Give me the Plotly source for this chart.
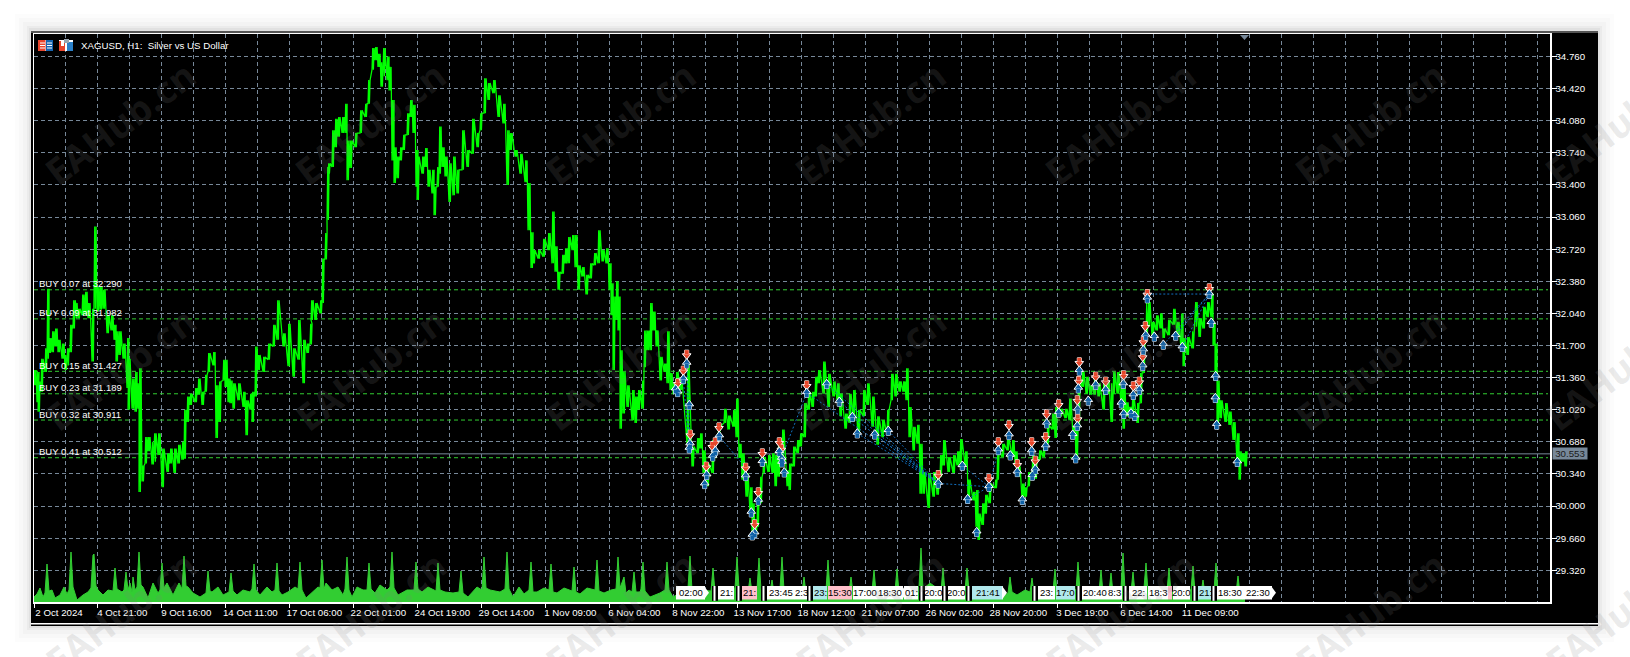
import plotly.graph_objects as go

# ---------- data ----------
y_ticks = [29.32, 29.66, 30.00, 30.34, 30.68, 31.02, 31.36, 31.70, 32.04, 32.38, 32.72, 33.06, 33.40, 33.74, 34.08, 34.42, 34.76]
x_tick_labels = ["2 Oct 2024", "4 Oct 21:00", "9 Oct 16:00", "14 Oct 11:00", "17 Oct 06:00", "22 Oct 01:00", "24 Oct 19:00",
                 "29 Oct 14:00", "1 Nov 09:00", "6 Nov 04:00", "8 Nov 22:00", "13 Nov 17:00", "18 Nov 12:00", "21 Nov 07:00",
                 "26 Nov 02:00", "28 Nov 20:00", "3 Dec 19:00", "6 Dec 14:00", "11 Dec 09:00"]
levels = [32.290, 31.982, 31.427, 31.189, 30.911, 30.512]
level_labels = ["BUY 0.07 at 32.290", "BUY 0.09 at 31.982", "BUY 0.15 at 31.427", "BUY 0.23 at 31.189", "BUY 0.32 at 30.911", "BUY 0.41 at 30.512"]
last_price = 30.553

bars = [0,3,4,7,11,13,15,18,21,24,28,31,33,36,39,41,44,48,51,54,58,60,63,66,69,73,77,80,82,85,89,93,94,98,101,103,105,108,111,114,118,120,124,128,133,136,140,144,148,150,153,156,161,164,168,171,174,179,182,185,189,191,194,196,199,204,209,212,216,218,221,224,229,234,239,243,249,254,259,264,269,273,276,277,281,286,288,291,293,294,298,301,304,308,311,313,316,321,326,331,334,338,341,344,347,349,353,355,358,360,363,366,369,373,376,379,382,383,388,391,394,398,400,403,405,408,411,415,419,423,428,433,438,443,446,450,454,459,464,469,473,476,481,486,491,494,497,499,504,509,514,518,521,524,528,531,534,538,541,544,548,552,556,560,564,568,572,575,577,579,582,584,586,589,593,598,601,604,608,610,613,616,619,622,626,630,633,636,639,642,646,653,658,663,666,669,673,678,684,690,694,699,702,705,708,712,716,718,721,723,726,729,734,738,741,744,748,753,755,759,763,766,770,774,778,781,784,789,794,799,803,806,811,815,819,824,829,833,838,843,848,853,857,861,865,869,872,875,879,883,886,889,894,899,903,906,909,914,919,923,926,931,934,939,942,944,948,951,955,961,963,968,973,978,981,984,988,991,994,998,1001,1005,1009,1013,1018,1021,1026,1031,1035,1039,1042,1044,1048,1052,1056,1060,1064,1069,1073,1077,1079,1083,1087,1089,1092,1095,1098,1103,1106,1109,1112,1114,1118,1122,1126,1129,1134,1139,1143,1147,1149,1153,1158,1161,1165,1169,1173,1177,1179,1181,1183,1186,1191,1195,1199,1203,1205,1208,1211]
highs = [31.44,31.42,31.32,31.56,31.67,32.30,31.78,31.85,31.88,31.76,31.72,31.60,31.67,31.92,32.18,32.15,32.09,32.24,32.27,32.15,32.09,32.96,32.32,32.32,32.29,32.02,32.02,31.92,31.85,31.85,31.72,31.78,31.56,31.35,31.42,31.30,31.46,30.43,30.73,30.73,30.68,30.77,30.77,30.61,30.56,30.61,30.61,30.65,30.68,31.02,31.16,31.19,31.25,31.35,31.21,31.39,31.62,31.63,31.28,31.32,31.55,31.55,31.35,31.33,31.30,31.30,31.21,31.12,31.19,31.21,31.69,31.60,31.58,31.72,31.92,32.18,31.83,31.93,31.67,31.97,31.76,31.72,31.93,32.18,32.15,32.18,32.62,32.89,33.59,33.63,33.98,34.10,34.12,34.12,34.26,33.87,33.87,33.95,34.19,34.26,34.51,34.85,34.86,34.79,34.70,34.85,34.76,34.65,34.30,33.80,33.70,33.80,33.93,34.16,34.30,34.25,33.77,33.70,33.70,33.79,33.56,33.56,33.38,33.59,34.02,33.80,33.70,33.63,33.70,33.56,33.98,33.77,34.10,33.95,34.16,34.53,34.48,34.51,34.35,34.26,33.98,33.95,33.77,33.73,33.66,33.42,32.90,32.71,32.71,32.83,32.89,33.12,32.75,32.48,32.66,32.73,32.85,32.87,32.87,32.55,32.53,32.45,32.57,32.68,32.92,32.71,32.73,32.57,32.36,32.22,32.38,32.22,31.65,31.42,31.28,31.23,31.16,31.23,31.33,31.86,31.86,32.15,32.06,31.86,31.58,31.51,31.85,31.41,31.30,31.42,31.33,31.51,30.63,30.72,30.77,30.59,30.45,30.70,30.84,31.03,30.96,31.02,31.14,30.66,30.56,30.35,30.20,30.03,29.83,30.14,30.31,30.52,30.54,30.56,30.54,30.70,30.81,30.38,30.45,30.63,30.70,30.77,31.09,31.21,31.21,31.37,31.44,31.53,31.40,31.32,31.30,31.19,30.98,31.19,31.23,31.02,31.23,31.30,31.16,30.95,30.91,31.02,31.40,31.40,31.32,31.32,31.46,31.05,30.84,30.86,30.66,30.36,30.35,30.36,30.31,30.54,30.70,30.52,30.54,30.58,30.71,30.58,30.28,30.15,30.17,29.92,30.03,30.12,30.24,30.28,30.58,30.66,30.73,30.70,30.58,30.42,30.24,30.20,30.36,30.54,30.50,30.59,30.63,30.86,30.98,31.05,31.03,31.03,31.14,30.84,30.81,31.37,31.42,31.37,31.28,31.37,31.30,31.33,31.33,31.30,31.42,31.42,31.30,31.26,31.10,31.05,31.16,31.09,31.41,31.83,32.15,32.16,31.95,32.02,32.04,31.88,31.97,32.09,31.95,32.04,31.78,31.79,31.85,32.16,31.99,32.11,32.16,32.25,31.93,31.72,31.33,31.12,31.09,31.00,30.89,30.77,30.58,30.56,30.58]
lows = [31.28,31.10,31.00,31.21,31.42,31.56,31.62,31.63,31.69,31.63,31.56,31.44,31.49,31.63,31.88,31.99,31.99,32.02,32.02,31.99,31.53,32.09,32.06,32.08,32.09,31.83,31.86,31.76,31.53,31.60,31.56,31.25,31.02,31.03,31.00,31.03,30.15,30.26,30.45,30.58,30.44,30.47,30.54,30.20,30.36,30.45,30.35,30.45,30.49,30.50,30.89,31.07,31.10,31.18,31.07,31.21,31.42,31.49,30.72,30.89,31.33,31.26,31.10,31.09,31.03,31.12,31.05,30.75,31.02,30.89,31.16,31.44,31.42,31.55,31.69,31.76,31.69,31.48,31.37,31.55,31.30,31.62,31.71,31.97,31.97,32.04,32.15,32.61,33.03,33.52,33.59,33.80,33.91,33.95,33.95,33.45,33.58,33.80,33.95,34.12,34.26,34.62,34.72,34.65,34.44,34.55,34.51,34.40,33.66,33.42,33.47,33.66,33.77,33.93,34.12,33.95,33.38,33.24,33.52,33.59,33.38,33.31,33.08,33.38,33.52,33.59,33.49,33.22,33.29,33.31,33.56,33.59,33.73,33.80,33.98,34.16,34.30,34.37,34.12,34.05,33.40,33.77,33.70,33.52,33.43,32.92,32.52,32.57,32.62,32.64,32.71,32.57,32.48,32.29,32.46,32.57,32.57,32.71,32.53,32.29,32.43,32.24,32.41,32.55,32.57,32.59,32.57,32.29,32.02,31.44,31.97,31.86,30.82,30.98,31.05,30.91,30.88,31.02,31.03,31.47,31.65,31.65,31.86,31.69,31.33,31.42,31.30,31.23,31.19,31.18,31.23,30.66,30.42,30.56,30.61,30.35,30.21,30.35,30.70,30.88,30.81,30.84,30.73,30.51,30.28,30.10,29.92,29.68,29.68,29.78,30.03,30.35,30.36,30.35,30.21,30.31,30.45,30.21,30.17,30.42,30.56,30.63,30.73,31.02,31.05,31.16,31.30,31.19,31.05,31.16,31.12,30.95,30.82,30.88,30.93,30.75,30.95,31.07,30.84,30.65,30.73,30.75,31.12,31.16,31.21,31.21,31.12,30.73,30.59,30.66,30.13,30.13,29.98,30.10,30.12,30.31,30.43,30.36,30.35,30.43,30.45,30.43,30.06,30.06,29.78,29.64,29.80,29.92,30.03,30.19,30.28,30.52,30.59,30.52,30.45,30.31,30.08,30.10,30.21,30.28,30.29,30.49,30.52,30.66,30.81,30.72,30.95,30.93,30.91,30.72,30.47,30.81,31.26,31.19,31.18,31.18,31.16,31.02,31.19,30.89,31.19,31.19,31.05,30.82,30.95,30.96,30.95,30.88,31.09,31.41,31.83,31.90,31.79,31.86,31.88,31.78,31.81,31.92,31.79,31.65,31.48,31.60,31.67,31.90,31.79,31.88,32.00,32.00,31.70,31.33,30.88,30.93,30.89,30.86,30.70,30.45,30.28,30.47,30.42]

volume_points = [(0,5),(3,8),(6,14),(9,5),(11,9),(13,38),(15,11),(18,12),(21,4),(26,7),(30,15),(33,8),(35,12),(37,50),(39,15),(43,2),(49,7),(54,10),(57,14),(59,47),(60,48),(62,16),(64,12),(69,7),(74,12),(79,11),(81,34),(83,13),(88,10),(90,12),(92,30),(94,12),(96,19),(98,10),(99,25),(101,12),(103,15),(105,50),(107,17),(109,15),(114,4),(119,19),(124,9),(126,12),(128,39),(130,14),(133,19),(139,7),(145,19),(148,13),(150,46),(152,16),(154,15),(159,9),(166,5),(172,9),(174,31),(176,11),(178,10),(184,15),(189,7),(195,10),(197,29),(199,11),(203,7),(209,12),(216,10),(218,13),(220,38),(222,12),(226,7),(233,15),(238,10),(241,12),(243,39),(245,11),(248,7),(254,10),(261,15),(264,13),(266,40),(268,12),(272,4),(279,10),(284,15),(286,14),(288,42),(290,13),(292,19),(298,12),(304,15),(309,7),(311,13),(313,45),(315,12),(318,5),(323,15),(329,12),(333,12),(335,39),(337,13),(341,9),(346,17),(353,12),(356,15),(358,50),(360,14),(364,7),(373,12),(380,12),(382,40),(384,13),(388,10),(394,15),(402,11),(404,39),(406,12),(411,10),(419,9),(425,10),(427,31),(429,9),(434,5),(443,15),(448,12),(450,45),(452,14),(456,12),(466,10),(471,13),(473,50),(475,13),(479,5),(485,15),(490,8),(495,12),(497,40),(499,10),(503,10),(510,14),(515,12),(517,38),(519,10),(523,9),(530,14),(538,11),(540,35),(542,10),(546,8),(553,14),(561,12),(563,42),(565,11),(570,9),(577,12),(582,13),(584,45),(586,14),(590,25),(592,9),(595,12),(598,10),(600,30),(602,10),(606,10),(607,13),(609,40),(611,11),(616,5),(626,9),(631,12),(633,40),(635,12),(639,5),(654,14),(656,46),(658,12),(666,12),(677,11),(679,34),(681,10),(689,12),(701,14),(703,45),(705,14),(714,10),(716,24),(718,10),(723,13),(725,44),(727,12),(736,10),(738,22),(740,9),(746,13),(748,45),(750,12),(763,15),(768,9),(770,25),(772,9),(783,15),(792,12),(794,42),(796,10),(806,14),(815,10),(817,25),(819,9),(826,12),(838,11),(840,32),(842,10),(851,14),(861,11),(863,33),(865,10),(876,15),(885,15),(887,54),(889,13),(896,19),(907,11),(909,34),(911,10),(921,12),(931,12),(933,34),(935,11),(949,12),(959,15),(968,5),(974,9),(976,25),(978,10),(983,7),(991,12),(996,10),(998,24),(1000,8),(1009,12),(1019,11),(1021,33),(1023,9),(1033,15),(1042,12),(1044,40),(1046,11),(1056,15),(1065,10),(1067,32),(1069,9),(1075,10),(1077,29),(1079,9),(1087,14),(1089,49),(1091,12),(1097,10),(1099,30),(1101,9),(1110,14),(1112,39),(1114,10),(1123,12),(1133,11),(1135,34),(1137,9),(1146,15),(1157,12),(1159,36),(1161,10),(1167,9),(1169,22),(1171,8),(1180,12),(1182,39),(1184,10),(1193,15),(1202,9),(1204,26),(1206,8),(1211,12)]
vol_bars = [p[0] for p in volume_points]
vol_vals = [p[1] for p in volume_points]

buy_bars = [652.7,649.3,641.7,643.7,655.3,656,655.3,678.7,681.3,685.3,672.7,670.7,711.7,728.3,724.3,717.3,720.7,718.3,747.7,748,745.3,750.3,772.7,792.7,805.3,818.3,823.3,840.7,854.3,904.3,928.3,933.7,942.7,955,964.3,975,976.3,983.3,988.3,997.7,998.3,1001.3,1011.7,1012.7,1024.7,1038.7,1041.7,1043.3,1043.7,1044.3,1045.3,1054.3,1061.7,1071.7,1087.3,1089.3,1089.7,1097,1100.7,1099.3,1105.3,1108.7,1109.3,1111.7,1113.3,1120.3,1129.3,1141.7,1148.3,1175.3,1177.3,1181.7,1181.3,1182.7,1203.3]
buy_prices = [31.511,31.345,31.239,31.207,31.070,30.657,30.611,30.526,30.583,30.742,30.329,30.233,30.318,30.470,30.060,29.933,29.715,29.690,30.505,30.463,30.576,30.357,31.200,31.292,31.105,30.943,30.770,30.759,30.798,30.240,30.427,30.075,29.725,30.205,30.593,30.752,30.537,30.360,30.064,30.583,30.322,30.389,30.636,30.876,30.989,30.756,30.506,30.848,31.024,31.247,31.434,31.116,31.282,31.229,31.088,31.293,30.975,30.982,30.954,31.176,31.229,31.483,31.652,31.808,32.200,31.794,31.709,31.804,31.684,32.245,31.942,31.377,31.144,30.862,30.467]
sell_bars = [652.7,649.3,643.7,656.3,678.3,681.3,685,672.3,711.7,728.3,724.3,720.7,745.3,747.3,772.7,904.3,955,964.3,975,983.3,997.7,1001.3,1011.7,1012.7,1024.7,1043.7,1043.3,1044.7,1045.3,1061.7,1071.7,1089.7,1099.3,1105.3,1108.7,1109.3,1111.3,1113.3,1175.3]
sell_prices = [31.603,31.433,31.299,30.756,30.632,30.675,30.833,30.417,30.406,30.558,30.145,29.806,30.675,30.604,31.278,30.329,30.290,30.675,30.855,30.442,30.675,30.480,30.728,30.971,31.077,30.925,31.120,31.324,31.522,31.370,31.317,31.384,31.268,31.317,31.582,31.741,31.903,32.245,32.305]

link_from_bars = [652.7,649.3,685,747.3,772.7,792.7,805.3,818.3,823.3,840.7,854.3,904.3,928.3,933.7,955,1113.3,1129.3,1141.7,1148.3]
link_from_prices = [31.511,31.345,30.742,30.505,31.200,31.292,31.105,30.943,30.770,30.759,30.798,30.240,30.427,30.075,30.205,32.245,31.709,31.804,31.684]
link_to_bars = [656,655.3,711.7,772.7,904.3,904.3,904.3,904.3,904.3,904.3,904.3,955,955,955,964.3,1175.3,1175.3,1175.3,1175.3]
link_to_prices = [30.657,30.611,30.406,31.200,30.240,30.240,30.240,30.240,30.240,30.240,30.240,30.205,30.205,30.205,30.593,32.245,32.245,32.245,32.245]

tag_texts = ["02:00","21:","21:","23:45","2:3","23:","15:30","17:00","18:30","01:","20:0","20:0","21:41","23:","17:0","20:40","8:3","22:","18:3","","20:0","21:","18:30","22:30"]
tag_starts = [642,684,708,733,761,779,794,819,842,870,891,914,938,1004,1022,1048,1073,1095,1114,1134,1139,1164,1183,1209]
tag_ends = [671,700,723,761,773,793,818,842,869,884,908,931,969,1021,1041,1073,1088,1113,1134,1138,1156,1179,1209,1238]
tag_kinds = ["w","w","p","w","w","c","p","w","w","w","w","w","c","w","c","w","w","w","w","p","w","c","w","w"]
tag_pointed = ["02:00","23:45","21:41","18:30","22:30"]

# ---------- layout constants ----------
W, H = 1630, 657
L, R, T, B = 34, 1550, 34, 602
PX_PER_UNIT = 94.45
GREEN = "#00FF00"
LIME = "#32CD32"
SLATE = "#778899"
BLUE = "#0F62A8"
RED = "#E8472B"
FONT = "Liberation Sans"


def xp(px):
    return (px - L) / (R - L)


def yp(py):
    return (B - py) / (B - T)


def rect(x0, y0, x1, y1, color, layer="below", opacity=1):
    return dict(type="rect", xref="paper", yref="paper", x0=xp(x0), x1=xp(x1), y0=yp(y0), y1=yp(y1),
                fillcolor=color, line_width=0, layer=layer, opacity=opacity)


fig = go.Figure()

# pending-order levels and last price
lx, ly = [], []
for lv in levels:
    lx += [0, 1514, None]
    ly += [lv, lv, None]
fig.add_trace(go.Scatter(x=lx, y=ly, mode="lines", line=dict(color=LIME, width=1, dash="4px,3px"), hoverinfo="skip"))
fig.add_trace(go.Scatter(x=[0, 1516], y=[last_price, last_price], mode="lines", line=dict(color=SLATE, width=1), hoverinfo="skip"))

# price as a dense high/low sweep
px_x, px_y = [], []
for b, h, l in zip(bars, highs, lows):
    px_x += [b, b + 0.7, b + 1.4, b + 2.1]
    px_y += [l, h, l, h]
fig.add_trace(go.Scatter(x=px_x, y=px_y, mode="lines", line=dict(color=GREEN, width=1.25), hoverinfo="skip"))

# volume on its own hidden axis
fig.add_trace(go.Scatter(x=vol_bars, y=vol_vals, yaxis="y2", mode="lines", fill="tozeroy",
                         fillcolor=LIME, line=dict(color=LIME, width=1), hoverinfo="skip"))

# trade links
cx, cy = [], []
for a, b, c, d in zip(link_from_bars, link_from_prices, link_to_bars, link_to_prices):
    cx += [a, c, None]
    cy += [b, d, None]
fig.add_trace(go.Scatter(x=cx, y=cy, mode="lines", line=dict(color="#1270C0", width=1, dash="2px,2px"), hoverinfo="skip"))


# deal arrows: head + stem, each white-edged
def arrows(xs, ys, color, up):
    d = 1 / PX_PER_UNIT
    sgn = -1 if up else 1
    stem_y = [v + sgn * 2.5 * d for v in ys]
    head_y = [v - sgn * 1.0 * d for v in ys]
    white = dict(color="white", width=1)
    fig.add_trace(go.Scatter(x=xs, y=stem_y, mode="markers", hoverinfo="skip",
                             marker=dict(symbol="square", size=4, color=color, line=white)))
    fig.add_trace(go.Scatter(x=xs, y=head_y, mode="markers", hoverinfo="skip",
                             marker=dict(symbol="triangle-up" if up else "triangle-down", size=7.5, color=color, line=white)))
    fig.add_trace(go.Scatter(x=xs, y=stem_y, mode="markers", hoverinfo="skip",
                             marker=dict(symbol="square", size=4, color=color, line_width=0)))


arrows(sell_bars, sell_prices, RED, False)
arrows(buy_bars, buy_prices, BLUE, True)

# ---------- shapes ----------
shapes = []
for grow, op in [(16, .012), (12, .015), (8, .02), (4, .03), (2, .04)]:
    shapes.append(rect(31 - grow, 30 - grow, 1598 + grow, 626 + grow, "#000000", opacity=op))
shapes.append(rect(31, 31, 1598, 626, "#000000"))
shapes.append(rect(31, 31, 1598, 33, "#555555"))
shapes.append(rect(31, 623, 1598, 624.4, "#FFFFFF"))
# toolbar icons
shapes += [rect(38, 40, 53, 51, "#FFFFFF", "above"), rect(38, 40, 45.5, 51, "#E8452C", "above"),
           rect(46, 40, 53, 51, "#1565B0", "above"),
           rect(40, 42.5, 45, 43.5, "#FFFFFF", "above"), rect(40, 45, 45, 46, "#FFFFFF", "above"), rect(40, 47.5, 45, 48.5, "#FFFFFF", "above"),
           rect(47, 42.5, 52, 43.5, "#FFFFFF", "above"), rect(47, 45, 52, 46, "#FFFFFF", "above"), rect(47, 47.5, 52, 48.5, "#FFFFFF", "above"),
           rect(59, 40, 73, 51, "#FFFFFF", "above"), rect(59, 41, 65, 51, "#E8452C", "above"), rect(67, 42, 73, 51, "#2A80C8", "above"),
           rect(61, 41, 64, 46, "#FFFFFF", "above"), rect(64, 39, 69, 43, "#9AA5B0", "above")]
# shift marker at the top edge
shapes.append(dict(type="path", xref="paper", yref="paper", layer="above", line_width=0, fillcolor=SLATE,
                   path=f"M {xp(1240)},{yp(35)} L {xp(1249)},{yp(35)} L {xp(1244.5)},{yp(40)} Z"))
# time tags, with the dark separators seen before the tags that stand apart
tag_fill = {"w": "#FFFFFF", "p": "#FFC0CB", "c": "#B0E8EC"}
prev_end = -99
for s, e, k in zip(tag_starts, tag_ends, tag_kinds):
    if s - prev_end > 3 and s > 650:
        shapes.append(dict(type="rect", xref="x", yref="paper", x0=s - 6, x1=s, y0=0.002, y1=yp(586),
                           fillcolor="#000000", line_width=0, layer="above"))
        shapes.append(dict(type="rect", xref="x", yref="paper", x0=s - 4.5, x1=s - 2.5, y0=0.002, y1=yp(586),
                           fillcolor="#FFFFFF", line_width=0, layer="above"))
    shapes.append(dict(type="rect", xref="x", yref="paper", x0=s, x1=e, y0=yp(599.5), y1=yp(586),
                       fillcolor=tag_fill[k], line_width=0, layer="above"))
    prev_end = e
for s, e, t in zip(tag_starts, tag_ends, tag_texts):
    if t in tag_pointed:
        shapes.append(dict(type="path", xref="paper", yref="paper", layer="above", line_width=0, fillcolor="#FFFFFF",
                           path=f"M {xp(e + L - 1)},{yp(586)} L {xp(e + L + 4)},{yp(592.7)} L {xp(e + L - 1)},{yp(599.5)} Z"))

# ---------- annotations ----------
ann = []
ann.append(dict(xref="paper", yref="paper", x=xp(79), y=yp(45), xanchor="left", yanchor="middle", showarrow=False,
                text="XAGUSD, H1:  Silver vs US Dollar", font=dict(family=FONT, size=9.7, color="#FFFFFF")))
for lv, tx in zip(levels, level_labels):
    ann.append(dict(xref="x", yref="y", x=3, y=lv, yshift=6, xanchor="left", yanchor="middle", showarrow=False,
                    text=tx, font=dict(family=FONT, size=9.5, color="#FFFFFF")))
for s, e, t in zip(tag_starts, tag_ends, tag_texts):
    if t:
        ann.append(dict(xref="x", yref="paper", x=(s + e) / 2, y=yp(592.7), xanchor="center", yanchor="middle", showarrow=False,
                        text=t, font=dict(family=FONT, size=9.5, color="#000000")))
ann.append(dict(xref="paper", yref="y", x=xp(1570), y=last_price, xanchor="center", yanchor="middle", showarrow=False,
                text=f"{last_price:.3f}", bgcolor=SLATE, width=34, height=11, borderpad=0,
                font=dict(family=FONT, size=9.7, color="#1A1A1A")))
# watermark
for wy in (123, 368, 612):
    for wx in (120, 370, 620, 870, 1120, 1370, 1620):
        ann.append(dict(xref="paper", yref="paper", x=xp(wx), y=yp(wy), xanchor="center", yanchor="middle", showarrow=False,
                        text="<b>EAHub.cn</b>", textangle=-37, font=dict(family="Open Sans", size=37, color="rgba(128,128,128,0.17)")))

major = [0] + [63.3 + 64 * k for k in range(len(x_tick_labels) - 1)]
minor = [31.3 + 32 * k for k in range(47) if (31.3 + 32 * k) not in major]

fig.update_layout(
    width=W, height=H, autosize=False, showlegend=False,
    paper_bgcolor="#FFFFFF", plot_bgcolor="#000000",
    margin=dict(l=L, r=W - R, t=T, b=H - B, pad=0),
    hovermode=False,
    shapes=shapes, annotations=ann,
    xaxis=dict(range=[0, R - L], tickmode="array", tickvals=major, ticktext=x_tick_labels,
               ticks="outside", ticklen=4, tickcolor="#FFFFFF", tickwidth=1, tickangle=0,
               ticklabelshift=25, ticklabelstandoff=-3,
               tickfont=dict(family=FONT, size=9.7, color="#FFFFFF"),
               showgrid=True, gridcolor=SLATE, griddash="4px,3px", gridwidth=1, zeroline=False,
               showline=True, mirror=True, linecolor="#FFFFFF", linewidth=1.5,
               minor=dict(tickmode="array", tickvals=minor, ticks="", showgrid=True, gridcolor=SLATE, griddash="4px,3px", gridwidth=1)),
    yaxis=dict(range=[34.76 - (B - 56.5) / PX_PER_UNIT, 34.76 + (56.5 - T) / PX_PER_UNIT], side="right", tickmode="array",
               tickvals=y_ticks, ticktext=[f"{v:.3f}" for v in y_ticks], ticks="outside", ticklen=5, tickcolor="#FFFFFF", tickwidth=1,
               ticklabelstandoff=-3,
               tickfont=dict(family=FONT, size=9.7, color="#FFFFFF"),
               showgrid=True, gridcolor=SLATE, griddash="4px,3px", gridwidth=1, zeroline=False,
               showline=True, mirror=True, linecolor="#FFFFFF", linewidth=1.5),
    yaxis2=dict(overlaying="y", range=[0, B - T], visible=False, fixedrange=True),
)

fig.write_html("out.html", config=dict(displayModeBar=False, staticPlot=True),
               post_script="document.body.style.margin='0';document.documentElement.style.overflow='hidden';")
